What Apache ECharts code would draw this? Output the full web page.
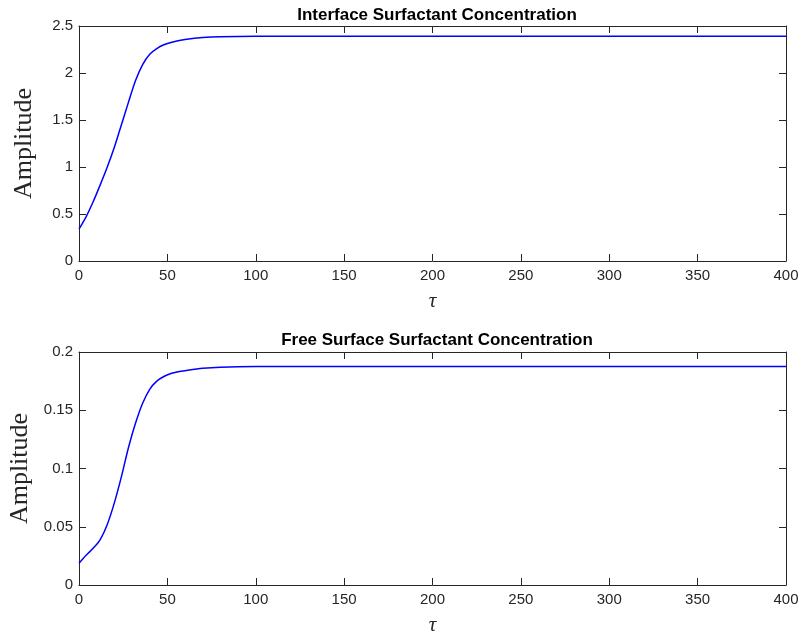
<!DOCTYPE html>
<html>
<head>
<meta charset="utf-8">
<script src="https://cdn.jsdelivr.net/npm/echarts@6/dist/echarts.min.js"></script>
<style>html,body{margin:0;padding:0;background:#fff}#c{width:804px;height:634px}</style>
</head>
<body>
<div id="c"></div>
<script>
// Data
const titles = ['Interface Surfactant Concentration', 'Free Surface Surfactant Concentration'];
const xLabel = 'τ';
const yLabel = 'Amplitude';
const tauInterface = [0, 4, 8, 12, 16, 20, 24, 28, 32, 36, 40, 44, 48, 52, 56, 60, 70, 80, 100, 150, 200, 300, 400];
const ampInterface = [0.34, 0.47, 0.63, 0.81, 1.0, 1.21, 1.45, 1.69, 1.92, 2.09, 2.20, 2.26, 2.30, 2.325, 2.343, 2.357, 2.377, 2.386, 2.39, 2.39, 2.39, 2.39, 2.39];
const tauFree = [0, 4, 8, 12, 16, 20, 24, 28, 32, 36, 40, 44, 48, 52, 56, 60, 70, 80, 100, 150, 200, 300, 400];
const ampFree = [0.0186, 0.0255, 0.0315, 0.039, 0.052, 0.0705, 0.093, 0.118, 0.139, 0.156, 0.168, 0.175, 0.179, 0.1815, 0.183, 0.184, 0.186, 0.187, 0.1875, 0.1875, 0.1875, 0.1875, 0.1875];
const xTicks = {min: 0, max: 400, interval: 50};
const yTicksTop = {min: 0, max: 2.5, interval: 0.5};
const yTicksBottom = {min: 0, max: 0.2, interval: 0.05};

const axisColor = '#262626';
const pairs = (xs, ys) => xs.map((x, i) => [x, ys[i]]);

function xAx(gridIndex, primary) {
  return {
    type: 'value', gridIndex, min: xTicks.min, max: xTicks.max, interval: xTicks.interval,
    position: primary ? 'bottom' : 'top',
    axisLine: {show: true, onZero: false, lineStyle: {color: axisColor, width: 1}},
    axisTick: {show: true, inside: true, length: 7, lineStyle: {color: axisColor}},
    axisLabel: {show: primary, color: axisColor, fontSize: 15, fontFamily: 'Liberation Sans, Arial, sans-serif', margin: 7},
    splitLine: {show: false},
    name: primary ? xLabel : '', nameLocation: 'middle', nameGap: 30,
    nameTextStyle: {fontFamily: 'Liberation Serif, serif', fontStyle: 'italic', fontSize: 21, color: axisColor}
  };
}
function yAx(gridIndex, primary, t) {
  return {
    type: 'value', gridIndex, min: t.min, max: t.max, interval: t.interval,
    position: primary ? 'left' : 'right',
    axisLine: {show: true, onZero: false, lineStyle: {color: axisColor, width: 1}},
    axisTick: {show: true, inside: true, length: 7, lineStyle: {color: axisColor}},
    axisLabel: {show: primary, color: axisColor, fontSize: 15, fontFamily: 'Liberation Sans, Arial, sans-serif', margin: 6},
    splitLine: {show: false},
    name: primary ? yLabel : '', nameLocation: 'middle', nameGap: 42, nameRotate: 90,
    nameTextStyle: {fontFamily: 'Liberation Serif, serif', fontSize: 26, color: axisColor}
  };
}

const chart = echarts.init(document.getElementById('c'), null, {renderer: 'canvas'});
chart.setOption({
  animation: false,
  backgroundColor: '#fff',
  title: [
    {text: titles[0], left: 432, textAlign: 'center', top: 2, textStyle: {fontFamily: 'Liberation Sans, Arial, sans-serif', fontWeight: 'bold', fontSize: 17, color: '#000'}},
    {text: titles[1], left: 432, textAlign: 'center', top: 327, textStyle: {fontFamily: 'Liberation Sans, Arial, sans-serif', fontWeight: 'bold', fontSize: 17, color: '#000'}}
  ],
  grid: [
    {left: 79, top: 26, width: 707, height: 235, containLabel: false, outerBoundsMode: 'none'},
    {left: 79, top: 352, width: 707, height: 233, containLabel: false, outerBoundsMode: 'none'}
  ],
  xAxis: [xAx(0, true), xAx(0, false), xAx(1, true), xAx(1, false)],
  yAxis: [yAx(0, true, yTicksTop), yAx(0, false, yTicksTop), yAx(1, true, yTicksBottom), yAx(1, false, yTicksBottom)],
  series: [
    {type: 'line', xAxisIndex: 0, yAxisIndex: 0, data: pairs(tauInterface, ampInterface), showSymbol: false, smooth: 0.3, lineStyle: {color: '#0000ff', width: 1.5}},
    {type: 'line', xAxisIndex: 2, yAxisIndex: 2, data: pairs(tauFree, ampFree), showSymbol: false, smooth: 0.3, lineStyle: {color: '#0000ff', width: 1.5}}
  ]
});
</script>
</body>
</html>
